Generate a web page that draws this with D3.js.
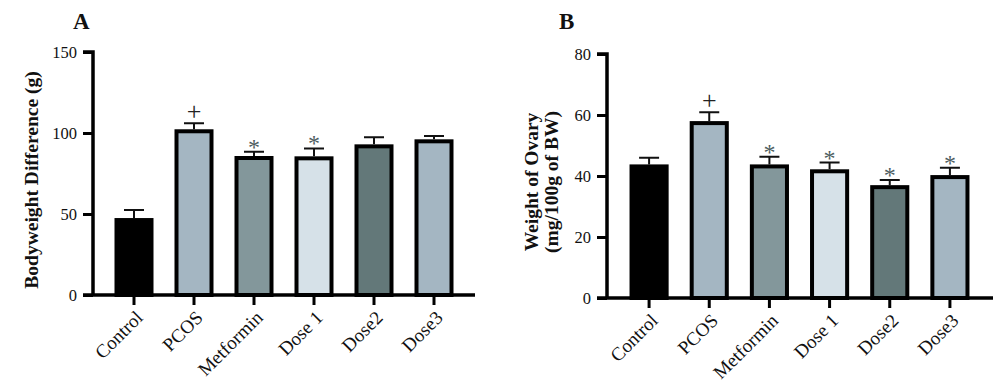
<!DOCTYPE html>
<html>
<head>
<meta charset="utf-8">
<script src="https://cdn.jsdelivr.net/npm/d3@7"></script>
<style>
  body { margin: 0; background: #fff; }
  text { font-family: "Liberation Serif", "DejaVu Serif", serif; }
</style>
</head>
<body>
<div id="chart"></div>
<script>
const width = 1000;
const height = 388;

const groups = ["Control", "PCOS", "Metformin", "Dose 1", "Dose2", "Dose3"];
const barColors = ["#000000", "#a4b6c2", "#83979b", "#d6e1e8", "#637879", "#a4b6c2"];

// panel A: bodyweight difference
const weightMean = [47.5, 102.3, 85.8, 85.6, 93, 96.1];
const weightErr = [5, 3.7, 2.7, 4.9, 4.3, 2];
const weightMarks = ["", "+", "*", "*", "", ""];
const weightTicks = [0, 50, 100, 150];

// panel B: ovary weight
const ovaryMean = [43.8, 58, 43.8, 42.2, 37, 40.3];
const ovaryErr = [2.2, 2.9, 2.5, 2.2, 1.7, 2.4];
const ovaryMarks = ["", "+", "*", "*", "*", "*"];
const ovaryTicks = [0, 20, 40, 60, 80];

const svg = d3.select("#chart")
    .append("svg")
    .attr("width", width)
    .attr("height", height);

const drawPanel = (opt) => {
    const g = svg.append("g");

    const x = d3.scaleBand()
        .domain(groups)
        .range([opt.bandStart, opt.bandEnd])
        .paddingInner(0.35)
        .paddingOuter(0.175);

    const y = d3.scaleLinear()
        .domain([0, opt.max])
        .range([opt.bottom, opt.top]);

    // bars (outer edge of the stroke sits on the value)
    g.selectAll(".bar")
        .data(groups)
        .enter().append("rect")
        .attr("x", d => x(d) + 2)
        .attr("y", (d, i) => y(opt.mean[i]) + 2)
        .attr("width", x.bandwidth() - 4)
        .attr("height", (d, i) => y(0) - y(opt.mean[i]) - 2)
        .attr("fill", (d, i) => barColors[i])
        .attr("stroke", "#000")
        .attr("stroke-width", 4);

    // error bars (upper only)
    g.selectAll(".err")
        .data(groups)
        .enter().append("path")
        .attr("d", (d, i) => {
            const cx = x(d) + x.bandwidth() / 2;
            const top = y(opt.mean[i] + opt.err[i]);
            return `M${cx},${y(opt.mean[i])}V${top}M${cx - 10},${top}H${cx + 10}`;
        })
        .attr("fill", "none")
        .attr("stroke", "#111")
        .attr("stroke-width", 2);

    // significance marks
    g.selectAll(".mark")
        .data(groups)
        .enter().append("text")
        .attr("x", d => x(d) + x.bandwidth() / 2)
        .attr("y", (d, i) => y(opt.mean[i] + opt.err[i]) + (opt.marks[i] === "+" ? -3 : 3))
        .attr("text-anchor", "middle")
        .attr("font-size", (d, i) => opt.marks[i] === "+" ? 26 : 24)
        .attr("fill", (d, i) => opt.marks[i] === "+" ? "#222" : "#4d5c60")
        .text((d, i) => opt.marks[i]);

    // y axis
    const yAxis = g.append("g")
        .attr("transform", `translate(${opt.left},0)`)
        .call(d3.axisLeft(y).tickValues(opt.ticks).tickSize(10).tickPadding(6));
    yAxis.select(".domain")
        .attr("stroke-width", 3.5)
        .attr("d", `M${-10},${y(opt.max)}H0V${y(0)}`);
    yAxis.selectAll(".tick line").attr("stroke-width", 3);
    yAxis.selectAll(".tick text")
        .attr("font-size", 16.5)
        .attr("fill", "#111");

    // x axis
    const xAxis = g.append("g")
        .attr("transform", `translate(0,${opt.bottom})`)
        .call(d3.axisBottom(x).tickSize(10).tickSizeOuter(0));
    xAxis.select(".domain")
        .attr("stroke-width", 3.5)
        .attr("d", `M${opt.left - 10},0H${opt.right}`);
    xAxis.selectAll(".tick line").attr("stroke-width", 3);
    xAxis.selectAll(".tick text")
        .attr("font-size", 19)
        .attr("fill", "#111")
        .attr("text-anchor", "end")
        .attr("dy", "0.35em")
        .attr("transform", "translate(-4,10) rotate(-45)");

    // y title
    const title = g.append("text")
        .attr("transform", `translate(${opt.titleX},${opt.titleY}) rotate(-90)`)
        .attr("text-anchor", "middle")
        .attr("font-weight", "bold")
        .attr("font-size", 19.5)
        .attr("fill", "#111");
    opt.title.forEach((line, i) => {
        title.append("tspan")
            .attr("x", 0)
            .attr("dy", i === 0 ? 0 : 20)
            .text(line);
    });

    // panel letter
    g.append("text")
        .attr("x", opt.letterX)
        .attr("y", 29)
        .attr("font-weight", "bold")
        .attr("font-size", 23)
        .attr("fill", "#111")
        .text(opt.letter);
};

drawPanel({
    left: 93, right: 475, top: 52, bottom: 295, bandStart: 104, bandEnd: 464,
    max: 150, mean: weightMean, err: weightErr, marks: weightMarks, ticks: weightTicks,
    title: ["Bodyweight Difference (g)"], titleX: 38, titleY: 180, letter: "A", letterX: 73
});

drawPanel({
    left: 607, right: 993, top: 54, bottom: 298, bandStart: 619, bandEnd: 980,
    max: 80, mean: ovaryMean, err: ovaryErr, marks: ovaryMarks, ticks: ovaryTicks,
    title: ["Weight of Ovary", "(mg/100g of BW)"], titleX: 538, titleY: 182, letter: "B", letterX: 559
});
</script>
</body>
</html>
